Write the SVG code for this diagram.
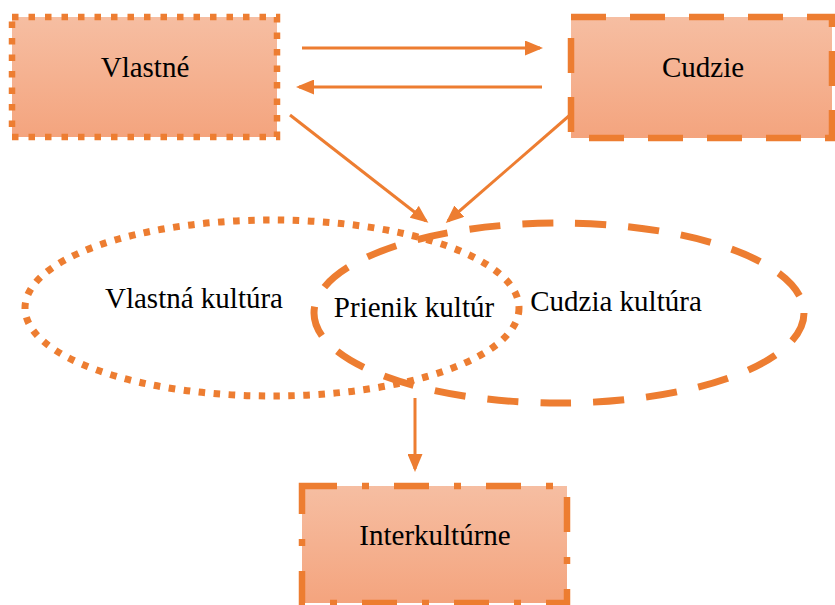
<svg xmlns="http://www.w3.org/2000/svg" width="835" height="605" viewBox="0 0 835 605">
<defs>
<linearGradient id="g" x1="0" y1="0" x2="0" y2="1">
<stop offset="0" stop-color="#F6BEA2"/>
<stop offset="1" stop-color="#F4A47E"/>
</linearGradient>
<marker id="ah" markerWidth="6" markerHeight="5" refX="5" refY="2.5" orient="auto" markerUnits="strokeWidth">
<path d="M0,0 L6,2.5 L0,5 Z" fill="#ED7D31"/>
</marker>
<style>
.lbl{font-family:"Liberation Serif","Times New Roman",serif;font-size:29px;fill:#000;text-anchor:middle}
.box{fill:url(#g);stroke:#ED7D31;stroke-width:6.5}
.con{stroke:#ED7D31;stroke-width:3;fill:none;marker-end:url(#ah)}
.ell{fill:none;stroke:#ED7D31;stroke-width:7}
</style>
</defs>
<g id="cudzia-kultura">
<ellipse class="ell" cx="559" cy="313" rx="245" ry="90" stroke-dasharray="31 22"/>
<text class="lbl" x="616" y="311">Cudzia kultúra</text>
</g>
<g id="vlastna-kultura">
<ellipse class="ell" cx="272" cy="308" rx="247" ry="88" stroke-width="6.5" stroke-dasharray="6.5 8.5"/>
<text class="lbl" x="194" y="308">Vlastná kultúra</text>
</g>
<g id="prienik">
<text class="lbl" x="414" y="317">Prienik kultúr</text>
</g>
<g id="vlastne">
<rect class="box" x="12" y="17" width="265" height="120" stroke-dasharray="6.5 10"/>
<text class="lbl" x="145" y="77">Vlastné</text>
</g>
<g id="cudzie">
<rect class="box" x="571" y="17" width="261" height="121" stroke-width="7.5" stroke-dasharray="35 24"/>
<text class="lbl" x="703" y="77">Cudzie</text>
</g>
<g id="interkulturne">
<rect class="box" x="302" y="486" width="265" height="117" stroke-width="7" stroke-dasharray="35 25 7 25"/>
<text class="lbl" x="435" y="545">Interkultúrne</text>
</g>
<g id="connectors">
<line class="con" x1="302" y1="48" x2="540" y2="48"/>
<line class="con" x1="542" y1="87" x2="299" y2="87"/>
<line class="con" x1="290" y1="115" x2="426" y2="221"/>
<line class="con" x1="570" y1="115" x2="448" y2="221"/>
<line class="con" x1="415" y1="398" x2="415" y2="469"/>
</g>
</svg>
